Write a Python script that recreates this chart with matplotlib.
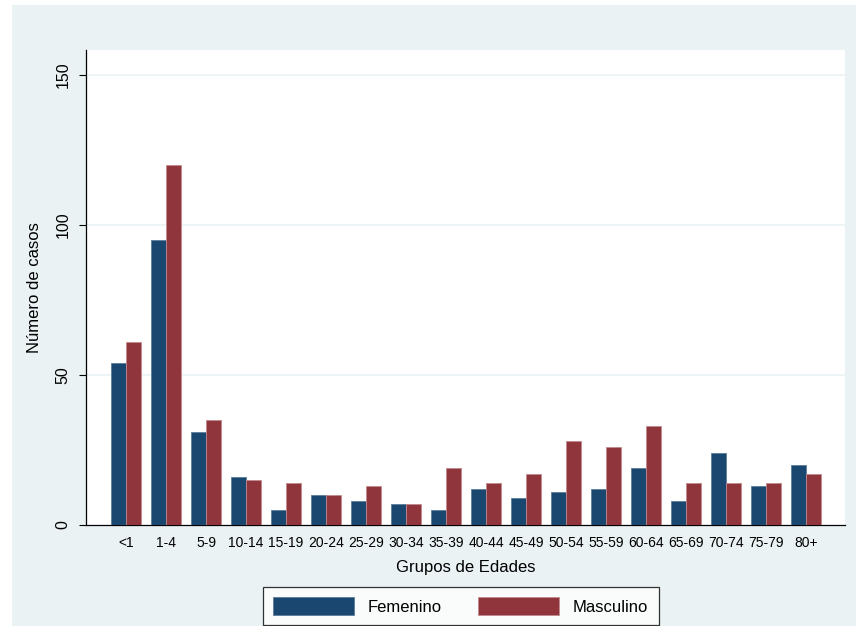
import matplotlib
matplotlib.use("Agg")
import matplotlib.pyplot as plt
import numpy as np
from matplotlib.patches import Rectangle

plt.rcParams['font.family'] = ['Liberation Sans', 'DejaVu Sans']

categories = ["<1", "1-4", "5-9", "10-14", "15-19", "20-24", "25-29", "30-34", "35-39",
              "40-44", "45-49", "50-54", "55-59", "60-64", "65-69", "70-74", "75-79", "80+"]
femenino = [54, 95, 31, 16, 5, 10, 8, 7, 5, 12, 9, 11, 12, 19, 8, 24, 13, 20]
masculino = [61, 120, 35, 15, 14, 10, 13, 7, 19, 14, 17, 28, 26, 33, 14, 14, 14, 17]
yticks = [0, 50, 100, 150]

W, H = 856, 626
fig = plt.figure(figsize=(W / 100, H / 100), dpi=100)
fig.patch.set_facecolor('white')
bg = '#EAF2F3'
fig.add_artist(Rectangle((12 / W, 0), 1, 1 - 5 / H, transform=fig.transFigure,
                         facecolor=bg, edgecolor='none', zorder=0))

ax = fig.add_axes([86 / W, (H - 525) / H, (845 - 86) / W, (525 - 50) / H])
ax.set_facecolor('white')

x = np.arange(len(categories))
bw = 0.375
c_f = '#1A476F'
c_m = '#90353B'
ax.bar(x - bw / 2, femenino, width=bw, color=c_f, edgecolor='#5a7d9a', linewidth=0.6, label='Femenino', zorder=3)
ax.bar(x + bw / 2, masculino, width=bw, color=c_m, edgecolor='#c08a8e', linewidth=0.6, label='Masculino', zorder=3)

ax.set_xlim(-1, 17.975)
ax.set_ylim(0, 158.3)
ax.set_yticks(yticks)
ax.set_yticklabels([str(v) for v in yticks], rotation=90, va='center', fontsize=11.5)
ax.set_xticks(x)
ax.set_xticklabels(categories, fontsize=10)
ax.tick_params(axis='x', length=0, pad=8)
ax.tick_params(axis='y', length=5, width=0.8, pad=6)
for v in yticks[1:]:
    ax.axhline(v, color=bg, linewidth=1.2, zorder=1)

for s in ['top', 'right']:
    ax.spines[s].set_visible(False)
ax.spines['left'].set_linewidth(0.9)
ax.spines['bottom'].set_linewidth(0.9)

ax.set_ylabel('Número de casos', fontsize=12, labelpad=10)
ax.set_xlabel('Grupos de Edades', fontsize=12, labelpad=7)

leg = fig.legend(loc='upper left', bbox_to_anchor=(263 / W, 1 - 587 / H), ncol=2,
                 fontsize=12, frameon=True, fancybox=False, edgecolor='black',
                 handlelength=4.86, handleheight=1.26, handletextpad=0.8,
                 columnspacing=2.2, borderpad=0.62, borderaxespad=0)
leg.get_frame().set_linewidth(0.9)

fig.savefig('out.png', dpi=100, facecolor=fig.get_facecolor())
